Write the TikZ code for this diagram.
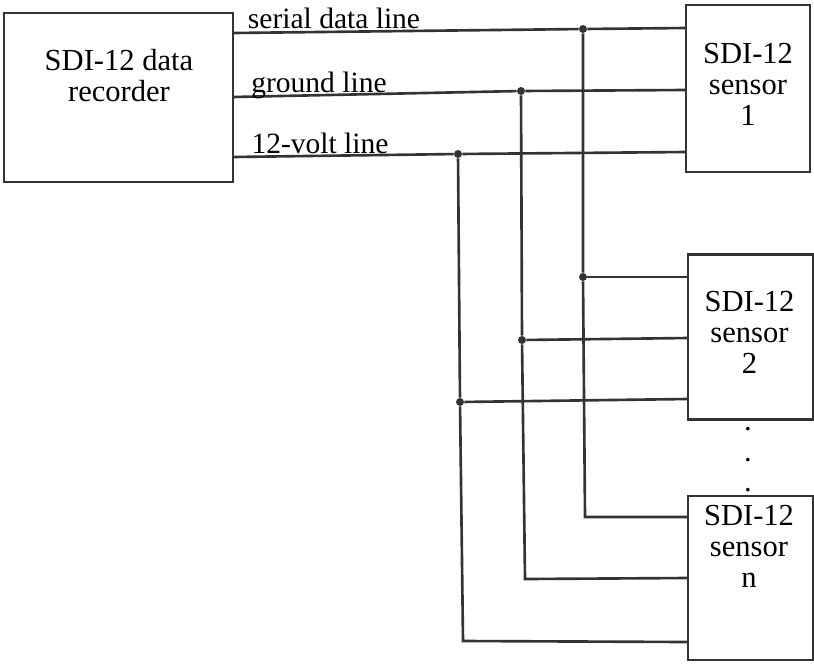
\documentclass[tikz,border=0pt]{standalone}
\usepackage{fontspec}
\setmainfont{Liberation Serif}
\begin{document}
\begin{tikzpicture}[x=0.02cm, y=-0.02cm, font=\fontsize{17.4}{17.6}\selectfont,
  box/.style={draw=black!80, line width=1.5pt, inner sep=0pt},
  wire/.style={draw=black!80, line width=1.5pt},
  dot/.style={circle, fill=black!80, inner sep=0pt, minimum size=0.16cm},
  lbl/.style={inner sep=0pt, align=center}]
  \useasboundingbox (0,0) rectangle (814,663);
  % boxes
  \node[box, minimum width=4.58cm, minimum height=3.38cm] (rec) at (118.5,97.5) {};
  \node[box, minimum width=2.48cm, minimum height=3.34cm] (s1) at (748,88.5) {};
  \node[box, minimum width=2.50cm, minimum height=3.31cm] (s2) at (750.5,337) {};
  \node[box, minimum width=2.50cm, minimum height=3.28cm] (sn) at (750.5,578) {};
  \node[lbl] (rectxt) at (119,76) {SDI-12 data\\recorder};
  \node[lbl] (s1txt) at (748,84) {SDI-12\\sensor\\1};
  \node[lbl] (s2txt) at (749.5,332) {SDI-12\\sensor\\2};
  \node[lbl] (sntxt) at (749,546.5) {SDI-12\\sensor\\n};
  % junctions
  \node[dot] (ja) at (583,29) {};
  \node[dot] (jb) at (521,91) {};
  \node[dot] (jc) at (458,154) {};
  \node[dot] (ka) at (583,277) {};
  \node[dot] (kb) at (522,340) {};
  \node[dot] (kc) at (460,402) {};
  % ends of the wires
  \coordinate (ra) at (233,33);
  \coordinate (rb) at (233,97);
  \coordinate (rc) at (233,157);
  \coordinate (ea) at (686,28);
  \coordinate (eb) at (686,90);
  \coordinate (ec) at (686,152);
  \coordinate (fa) at (688,277);
  \coordinate (fb) at (688,338);
  \coordinate (fc) at (688,399);
  \coordinate (ga) at (688,517);
  \coordinate (gb) at (688,578);
  \coordinate (gc) at (688,642);
  \coordinate (ca) at (585,517);
  \coordinate (cb) at (525,579);
  \coordinate (cc) at (463,641);
  % wires
  \draw[wire] (ra) -- (ja) -- (ea);
  \draw[wire] (rb) -- (jb) -- (eb);
  \draw[wire] (rc) -- (jc) -- (ec);
  \draw[wire] (ja) -- (ka) -- (ca) -- (ga);
  \draw[wire] (jb) -- (kb) -- (cb) -- (gb);
  \draw[wire] (jc) -- (kc) -- (cc) -- (gc);
  \draw[wire] (ka) -- (fa);
  \draw[wire] (kb) -- (fb);
  \draw[wire] (kc) -- (fc);
  % line names
  \node[lbl, font=\fontsize{16.8}{18}\selectfont] (sl) at (334,18) {serial data line};
  \node[lbl, font=\fontsize{16.8}{18}\selectfont] (gl) at (319,85) {ground line};
  \node[lbl, font=\fontsize{16.8}{18}\selectfont] (vl) at (320,143) {12-volt line};
  % dots between sensors
  \node[lbl] (da) at (748,429) {.};
  \node[lbl] (db) at (748,460) {.};
  \node[lbl] (dc) at (748,490) {.};
\end{tikzpicture}
\end{document}
